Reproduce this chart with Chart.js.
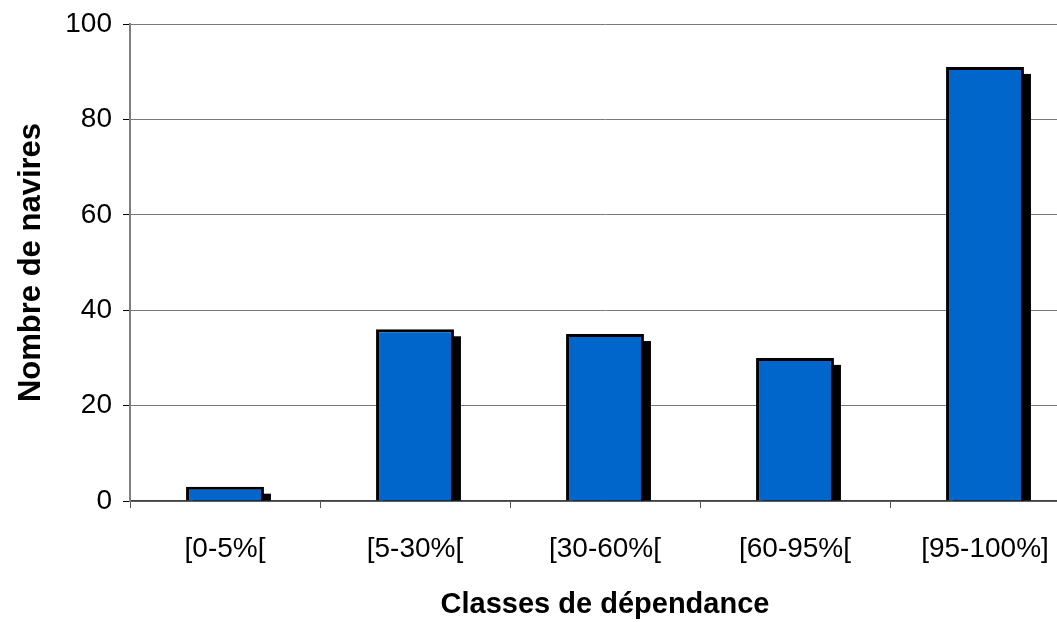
<!DOCTYPE html>
<html>
<head>
<meta charset="utf-8">
<script src="https://cdn.jsdelivr.net/npm/chart.js@4/dist/chart.umd.min.js"></script>
<style>
  html, body { margin: 0; padding: 0; background: #fff; overflow: hidden; }
  canvas { display: block; }
</style>
</head>
<body>
<canvas id="barchart" width="1090" height="622"></canvas>
<script>
// Data
const classes = ['[0-5%[', '[5-30%[', '[30-60%[', '[60-95%[', '[95-100%]'];
const navires = [3, 36, 35, 30, 91];
const yTicks = [0, 20, 40, 60, 80, 100];

// Black drop shadow behind each bar (Excel 3D-ish look)
const barShadow = {
    id: 'barShadow',
    beforeDatasetDraw(chart, args) {
        const ctx = chart.ctx;
        const meta = args.meta;
        const area = chart.chartArea;
        ctx.save();
        ctx.beginPath();
        ctx.rect(area.left, area.top, area.right - area.left, area.bottom - area.top);
        ctx.clip();
        ctx.fillStyle = '#000';
        meta.data.forEach(bar => {
            const p = bar.getProps(['x', 'y', 'base', 'width'], true);
            const left = p.x - p.width / 2 + 7;
            const top = p.y + 7;
            ctx.fillRect(left, top, p.width, p.base - top);
        });
        ctx.restore();
    }
};

function createChart() {
    const canvas = document.getElementById('barchart');
    new Chart(canvas, {
        type: 'bar',
        data: {
            labels: classes,
            datasets: [{
                label: 'Nombre de navires',
                data: navires,
                backgroundColor: '#0066CC',
                borderColor: '#000',
                borderWidth: 3,
                borderSkipped: 'bottom',
                barPercentage: 0.41,
                categoryPercentage: 1
            }]
        },
        options: {
            responsive: false,
            animation: false,
            devicePixelRatio: 1,
            layout: { padding: { top: 24, right: 10, left: 0, bottom: 0 } },
            plugins: {
                legend: { display: false },
                tooltip: { enabled: false }
            },
            scales: {
                x: {
                    afterFit: scale => { scale.height = 121; },
                    grid: {
                        drawOnChartArea: false,
                        tickLength: 7,
                        tickColor: '#555',
                        offset: true
                    },
                    border: { color: '#404040', width: 1.5 },
                    ticks: {
                        color: '#000',
                        padding: 24,
                        font: { family: 'Liberation Sans, Arial, sans-serif', size: 28 }
                    },
                    title: {
                        display: true,
                        text: 'Classes de dépendance',
                        color: '#000',
                        padding: { top: 0, bottom: 0 },
                        font: { family: 'Liberation Sans, Arial, sans-serif', size: 29, weight: 'bold' }
                    }
                },
                y: {
                    min: 0,
                    max: 100,
                    afterFit: scale => {
                        scale.width = 130;
                        scale.paddingTop = 0;
                        scale.paddingBottom = 0;
                    },
                    afterBuildTicks: scale => { scale.ticks = yTicks.map(v => ({ value: v })); },
                    grid: {
                        color: '#7a7a7a',
                        lineWidth: 1,
                        tickLength: 7,
                        tickColor: '#000'
                    },
                    border: { color: '#808080', width: 2 },
                    ticks: {
                        color: '#000',
                        padding: 11,
                        font: { family: 'Liberation Sans, Arial, sans-serif', size: 28 }
                    },
                    title: {
                        display: true,
                        text: 'Nombre de navires',
                        color: '#000',
                        padding: { top: 13, bottom: 0 },
                        font: { family: 'Liberation Sans, Arial, sans-serif', size: 31, weight: 'bold' }
                    }
                }
            }
        },
        plugins: [barShadow]
    });
}

createChart();
</script>
</body>
</html>
